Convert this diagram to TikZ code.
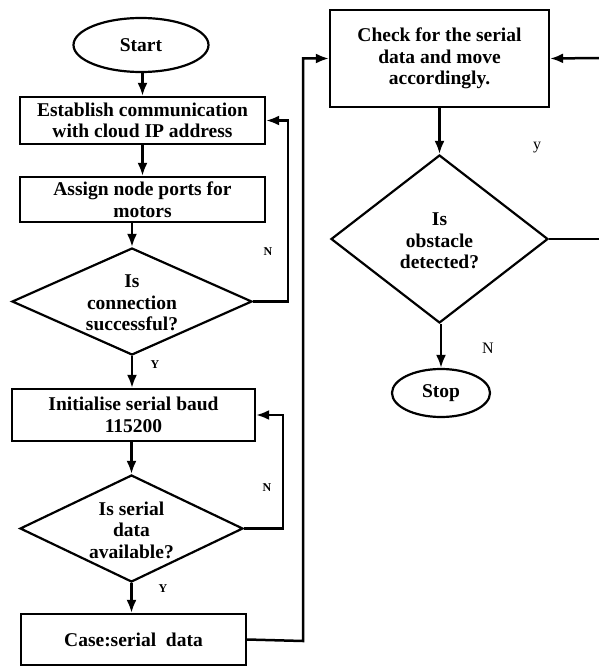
\documentclass[tikz,border=0pt]{standalone}
\usepackage{fontspec}
\setmainfont{Liberation Serif}
\usetikzlibrary{shapes.geometric,arrows.meta}
\tikzset{
  base/.style={draw, line width=2.2pt, inner sep=0pt, align=center,
    font=\fontsize{19.5}{21.5}\selectfont\bfseries},
  boxn/.style={base, rectangle},
  oval/.style={base, ellipse},
  dia/.style={base, diamond},
  txt/.style={inner sep=0pt, align=center, font=\fontsize{19.5}{21.5}\selectfont\bfseries},
  lab/.style={inner sep=0pt, font=\fontsize{12}{12}\selectfont\bfseries},
  labr/.style={inner sep=0pt, font=\fontsize{16}{16}\selectfont},
  ln/.style={line width=2.5pt},
  arr/.style={line width=2.5pt, -{Latex[length=13pt,width=10pt]}}
}
\begin{document}
\begin{tikzpicture}[x=1pt,y=-1pt]
\useasboundingbox (0,0) rectangle (598,666);
% left column
\node[oval, minimum width=135pt, minimum height=54pt] (start) at (141,45) {Start};
\node[boxn, minimum width=245pt, minimum height=47pt] (b1) at (142.5,120.5) {Establish communication\\with cloud IP address};
\node[boxn, minimum width=245pt, minimum height=45pt] (b2) at (142.5,199.5) {Assign node ports for\\motors};
\node[dia, minimum width=240pt, minimum height=107pt] (d1) at (132,301.5) {};
\node[txt] (d1t) at (132,303) {Is\\connection\\successful?};
\node[boxn, minimum width=243pt, minimum height=52pt] (b3) at (133.5,415) {Initialise serial baud\\115200};
\node[dia, minimum width=223pt, minimum height=107pt] (d2) at (131.5,528.5) {};
\node[txt] (d2t) at (131.5,530) {Is serial\\data\\available?};
\node[boxn, minimum width=225pt, minimum height=51pt] (b4) at (133.5,639.5) {Case:serial\ \ data};
% right column
\node[boxn, minimum width=219pt, minimum height=97pt] (b5) at (439.5,58.5) {Check for the serial\\data and move\\accordingly.};
\node[dia, minimum width=217pt, minimum height=168pt] (d3) at (439.5,239) {};
\node[txt] (d3t) at (439.5,241) {Is\\obstacle\\detected?};
\node[oval, minimum width=98pt, minimum height=48pt] (stop) at (441,393) {Stop};
% labels
\node[lab] (n1) at (268,252) {N};
\node[lab] (y1) at (155,365) {Y};
\node[lab] (n2) at (267,488) {N};
\node[lab] (y2) at (163,589) {Y};
\node[labr] (y3) at (537,148) {y};
\node[labr] (n3) at (488,348) {N};
% coordinates
\coordinate (l1) at (288,301.5);
\coordinate (l2) at (283,528.5);
\coordinate (l3) at (303,641);
\coordinate (e1) at (600,58);
\coordinate (e2) at (600,239);
% connectors
\draw[arr] (start.south -| b1.north) -- (b1.north);
\draw[arr] (b1.south) -- (b2.north);
\draw[arr] (b2.south -| d1.north) -- (d1.north);
\draw[arr] (d1.south) -- (d1.south |- b3.north);
\draw[arr] (b3.south -| d2.north) -- (d2.north);
\draw[arr] (d2.south) -- (d2.south |- b4.north);
\draw[arr] (d1.east) -- (l1) |- (b1.east);
\draw[arr] (d2.east) -- (l2) |- (b3.east);
\draw[arr] (b4.east) -- (l3) |- (b5.west);
\draw[arr] (b5.south -| d3.north) -- (d3.north);
\draw[arr] (d3.south -| stop.north) -- (stop.north);
\draw[arr] (e1) -- (b5.east);
\draw[ln] (d3.east) -- (e2);
\end{tikzpicture}
\end{document}
